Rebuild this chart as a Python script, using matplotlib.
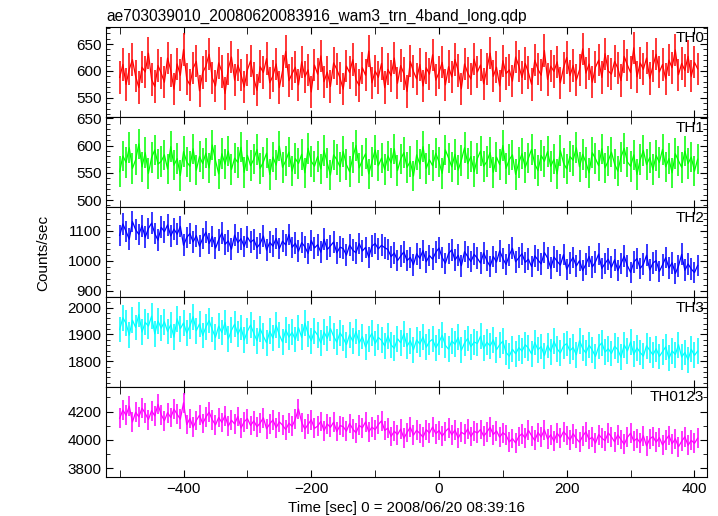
import numpy as np
import matplotlib
matplotlib.use('Agg')
import matplotlib.pyplot as plt
from matplotlib.ticker import MultipleLocator

plt.rcParams['font.family'] = ['Liberation Sans', 'DejaVu Sans']

# light curve, 5 s bins starting at t = -500 s
t_start = -500.0
t_bin = 5.0

th0 = [588, 612, 575, 603, 621, 590, 569, 607, 598, 633, 584, 571, 610, 596,
       579, 624, 601, 566, 613, 592, 640, 585, 574, 605, 618, 563, 597, 609,
       631, 587, 572, 615, 599, 558, 604, 626, 583, 611, 593, 570, 602, 619,
       586, 564, 608, 597, 623, 578, 591, 613, 569, 600, 636, 582, 595, 607,
       574, 617, 589, 602, 561, 611, 594, 628, 580, 598, 571, 615, 603, 587,
       566, 609, 597, 621, 584, 573, 606, 592, 637, 578, 600, 588, 614, 569,
       603, 591, 624, 577, 610, 595, 562, 618, 599, 585, 612, 572, 606, 594,
       630, 583, 597, 616, 574, 608, 589, 621, 601, 567, 613, 596, 585, 622,
       598, 611, 576, 604, 633, 590, 607, 572, 619, 595, 602, 581, 626, 609,
       588, 614, 597, 575, 620, 603, 592, 638, 584, 609, 599, 617, 578, 606,
       625, 591, 610, 583, 602, 641, 596, 613, 579, 607, 620, 588, 632, 600,
       594, 618, 605, 582, 627, 611, 597, 643, 589, 615, 603, 624, 586, 609,
       631, 598, 612, 585, 620, 606, 639, 593, 614, 601, 627, 590, 616, 604]

th1 = [552, 581, 569, 596, 558, 574, 603, 561, 587, 549, 578, 592, 566, 571,
       583, 557, 598, 564, 576, 545, 589, 570, 562, 594, 555, 580, 567, 586,
       559, 601, 573, 548, 585, 566, 590, 556, 577, 569, 597, 551, 582, 563,
       575, 593, 558, 570, 586, 547, 579, 564, 599, 560, 572, 588, 553, 576,
       567, 584, 550, 595, 571, 562, 580, 557, 591, 568, 546, 583, 574, 561,
       589, 565, 552, 578, 600, 559, 573, 585, 548, 570, 592, 563, 577, 556,
       581, 568, 594, 554, 575, 587, 560, 571, 544, 583, 566, 598, 558, 574,
       563, 586, 570, 549, 592, 577, 561, 584, 555, 573, 596, 567, 580, 552,
       576, 590, 562, 571, 587, 551, 579, 565, 600, 558, 574, 583, 547, 569,
       585, 560, 577, 593, 566, 554, 582, 571, 589, 562, 575, 548, 591, 568,
       557, 580, 573, 596, 561, 584, 569, 550, 587, 576, 563, 594, 559, 572,
       588, 566, 553, 579, 595, 570, 562, 583, 547, 574, 591, 565, 578, 556,
       582, 569, 593, 561, 576, 550, 585, 572, 560, 590, 567, 579, 553, 575]

th2 = [1085, 1123, 1098, 1072, 1131, 1104, 1088, 1117, 1079, 1108, 1126, 1091, 1069, 1112,
       1097, 1120, 1083, 1106, 1089, 1115, 1052, 1078, 1091, 1063, 1084, 1049, 1075, 1096,
       1058, 1081, 1042, 1070, 1093, 1055, 1067, 1039, 1086, 1061, 1074, 1048, 1079, 1062,
       1071, 1044, 1058, 1083, 1036, 1062, 1049, 1075, 1041, 1066, 1053, 1088, 1045, 1059,
       1032, 1061, 1047, 1025, 1068, 1043, 1054, 1029, 1072, 1038, 1050, 1063, 1027, 1046,
       1041, 1019, 1053, 1036, 1027, 1058, 1033, 1045, 1012, 1049, 1058, 1040, 1052, 1044,
       1038, 1014, 1027, 1001, 1016, 1030, 1001, 1012, 987, 1024, 1008, 1035, 997, 1018,
       1006, 1029, 1043, 1011, 992, 1025, 1037, 1003, 1019, 984, 1031, 1014, 998, 1022,
       1009, 993, 1027, 1001, 982, 1015, 996, 1034, 1008, 988, 1019, 1042, 997, 1011,
       1024, 995, 1006, 981, 1017, 1003, 990, 1028, 1010, 976, 1013, 999, 986, 1021,
       972, 994, 1012, 983, 1001, 968, 989, 1015, 980, 997, 1023, 975, 992, 1006,
       979, 1004, 968, 991, 1016, 984, 962, 996, 1008, 975, 989, 1019, 970, 993,
       1001, 965, 987, 1011, 976, 994, 958, 983, 1022, 969, 990, 973, 961, 985]

th3 = [1918, 1962, 1941, 1897, 1953, 1926, 1974, 1909, 1945, 1931, 1968, 1902, 1950, 1923,
       1947, 1911, 1936, 1890, 1958, 1921, 1943, 1905, 1932, 1966, 1914, 1939, 1896, 1927,
       1952, 1918, 1889, 1931, 1907, 1944, 1883, 1915, 1938, 1901, 1926, 1879, 1912, 1935,
       1904, 1877, 1921, 1893, 1869, 1912, 1886, 1934, 1898, 1872, 1917, 1890, 1908, 1881,
       1925, 1889, 1942, 1903, 1876, 1914, 1897, 1868, 1909, 1885, 1922, 1893, 1871, 1906,
       1887, 1862, 1899, 1875, 1911, 1868, 1892, 1853, 1883, 1904, 1866, 1889, 1878, 1857,
       1895, 1861, 1848, 1884, 1869, 1902, 1856, 1877, 1843, 1880, 1864, 1891, 1852, 1873,
       1882, 1850, 1871, 1897, 1859, 1845, 1876, 1863, 1889, 1841, 1868, 1885, 1854, 1872,
       1866, 1893, 1848, 1871, 1857, 1880, 1843, 1862, 1875, 1833, 1819, 1845, 1828, 1851,
       1838, 1862, 1849, 1827, 1870, 1843, 1855, 1821, 1859, 1836, 1874, 1846, 1831, 1857,
       1866, 1839, 1852, 1824, 1877, 1848, 1831, 1860, 1842, 1818, 1855, 1869, 1834, 1847,
       1829, 1856, 1843, 1815, 1861, 1838, 1872, 1826, 1850, 1833, 1819, 1858, 1841, 1824,
       1847, 1818, 1836, 1854, 1811, 1839, 1825, 1862, 1816, 1833, 1806, 1845, 1822, 1838]

th0123 = [4152, 4211, 4173, 4238, 4126, 4195, 4162, 4224, 4187, 4143, 4206, 4169, 4251, 4178,
          4135, 4192, 4158, 4217, 4180, 4146, 4262, 4108, 4151, 4089, 4137, 4174, 4115, 4160,
          4196, 4142, 4105, 4158, 4123, 4171, 4097, 4139, 4112, 4165, 4083, 4128, 4150, 4101,
          4134, 4092, 4119, 4156, 4078, 4113, 4141, 4086, 4127, 4104, 4072, 4118, 4095, 4146,
          4218, 4123, 4076, 4109, 4142, 4081, 4097, 4130, 4065, 4112, 4088, 4125, 4059, 4101,
          4093, 4061, 4116, 4077, 4049, 4102, 4085, 4127, 4056, 4090, 4071, 4108, 4134, 4066,
          4083, 4024, 4061, 4037, 4076, 4011, 4052, 4089, 4033, 4068, 4045, 4019, 4072, 4048,
          4091, 4043, 4066, 4027, 4059, 4082, 4035, 4070, 4012, 4054, 4039, 4077, 4024, 4061,
          4048, 4073, 4026, 4055, 4089, 4037, 4064, 4018, 4051, 4032, 3985, 4009, 3978, 4024,
          4043, 4011, 4068, 4029, 3996, 4052, 4020, 4071, 4005, 4036, 3990, 4047, 4014, 4058,
          4031, 3998, 4044, 4009, 3983, 4026, 4057, 4003, 4019, 3976, 4037, 4012, 3994, 4049,
          4021, 3986, 4035, 4002, 3968, 4018, 4047, 3991, 4010, 3979, 4029, 3957, 4006, 4024,
          3983, 4016, 3964, 3999, 4031, 3972, 4008, 3951, 3990, 4022, 3961, 3997, 3975, 4012]

series = [th0, th1, th2, th3, th0123]
errors = [30, 28, 36, 48, 70]
names = ['TH0', 'TH1', 'TH2', 'TH3', 'TH0123']
colors = ['#ff0000', '#00ff00', '#0000ff', '#00ffff', '#ff00ff']
ylims = [(514, 681), (487, 652), (880, 1179), (1705, 2039), (3739, 4374)]
major = [50, 50, 100, 100, 200]
minor = [10, 10, 20, 20, 100]


def plot():
	fig, axes = plt.subplots(5, 1, sharex=True, figsize=(7.18, 5.16), dpi=100)
	fig.subplots_adjust(left=0.148, right=0.985, top=0.947, bottom=0.076, hspace=0)

	for i, ax in enumerate(axes):
		y = np.array(series[i], dtype=float)
		t = t_start + t_bin * np.arange(len(y))
		ax.errorbar(t, y, yerr=errors[i], color=colors[i], lw=0.9,
		            elinewidth=1.1, capsize=0)
		ax.set_ylim(*ylims[i])
		ax.yaxis.set_major_locator(MultipleLocator(major[i]))
		ax.yaxis.set_minor_locator(MultipleLocator(minor[i]))
		ax.xaxis.set_major_locator(MultipleLocator(200))
		ax.xaxis.set_minor_locator(MultipleLocator(100))
		ax.tick_params(which='both', direction='in', top=True, right=True,
		               labelsize=11)
		ax.tick_params(which='major', length=5)
		ax.tick_params(which='minor', length=3)
		ax.tick_params(axis='x', which='minor', length=5)
		ax.text(0.995, 0.96, names[i], transform=ax.transAxes,
		        ha='right', va='top', fontsize=11)

	axes[-1].set_xlim(-521, 420)
	axes[0].set_title('ae703039010_20080620083916_wam3_trn_4band_long.qdp',
	                  loc='left', fontsize=11.2, pad=5)
	axes[-1].set_xlabel('Time [sec] 0 = 2008/06/20 08:39:16', fontsize=10.8, labelpad=4)
	fig.text(0.06, 0.51, 'Counts/sec', rotation=90, ha='center', va='center',
	         fontsize=11)

	fig.savefig('out.png', dpi=100)

if __name__ == '__main__':
	plot()
